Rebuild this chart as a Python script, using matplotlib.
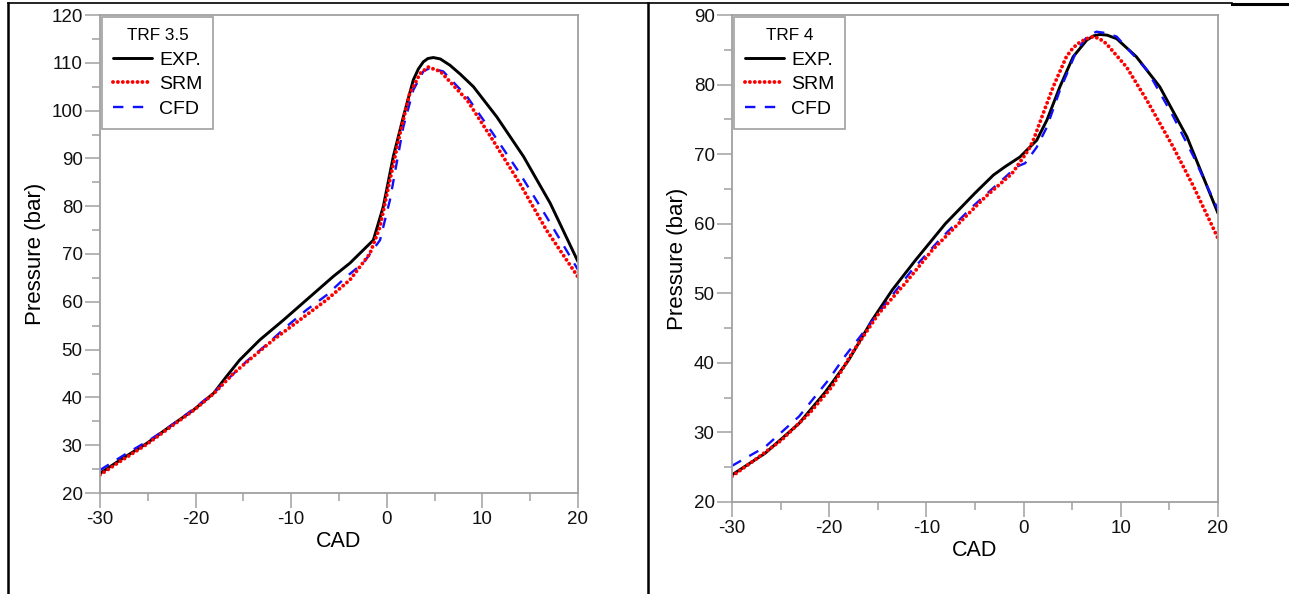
import matplotlib
matplotlib.use("Agg")
import matplotlib.pyplot as plt
from matplotlib.lines import Line2D
from matplotlib.ticker import MultipleLocator

plt.rcParams["font.family"] = ["Liberation Sans", "DejaVu Sans"]
plt.rcParams["axes.unicode_minus"] = False

# ---- TRF 3.5 (left panel) ----
exp35_x = [-30, -27.9, -25.1, -22.7, -20.2, -18.1, -16.8, -15.4, -13.3, -10.8, -8.0, -5.6, -3.85,
           -1.41, -0.37, 0.68, 1.73, 2.77, 3.3, 3.82, 4.3, 4.87, 5.6, 6.6, 7.7, 9.06, 11.5, 14.3,
           17.1, 20]
exp35_y = [24.1, 26.9, 30.4, 33.9, 37.4, 40.9, 44.3, 47.8, 52.0, 56.2, 61.1, 65.3, 68.1,
           72.9, 79.9, 90.4, 98.7, 106.4, 108.7, 110.2, 110.9, 111.1, 110.8, 109.5, 107.6, 105.0,
           98.7, 90.4, 80.6, 68.4]
srm35_x = [-30, -27.9, -25.1, -22.7, -20.2, -18.1, -16.05, -14.0, -11.9, -9.1, -6.3, -3.85,
           -1.76, -0.71, 0.33, 1.38, 2.4, 3.5, 4.34, 5.6, 8.4, 11.1, 13.9, 16.7, 20]
srm35_y = [23.8, 26.6, 30.2, 33.7, 37.3, 40.8, 45.0, 48.5, 52.0, 56.2, 60.4, 64.6,
           70.1, 75.7, 85.5, 95.2, 103.6, 107.8, 109.1, 108.2, 102.2, 93.8, 84.8, 75.0, 65.2]
cfd35_x = [-30, -27.2, -24.8, -22.7, -20.2, -18.1, -14.7, -12.6, -10.5, -8.4, -6.3, -4.2,
           -2.46, -0.71, 0.33, 1.03, 1.73, 2.77, 3.82, 4.5, 5.9, 8.4, 11.1, 13.9, 16.7, 20]
cfd35_y = [24.8, 28.3, 31.1, 33.9, 37.6, 41.0, 47.5, 51.0, 54.8, 58.3, 61.4, 65.3,
           68.1, 72.9, 81.3, 89.0, 96.6, 104.3, 108.2, 108.9, 108.2, 102.9, 95.2, 86.9, 77.8, 66.7]

# ---- TRF 4 (right panel) ----
exp4_x = [-30, -26.6, -23.1, -20.4, -18.0, -15.6, -13.5, -11.1, -8.05, -5.0, -3.1, -1.9, -0.37,
          1.35, 2.4, 3.74, 5.1, 6.5, 7.2, 7.86, 8.6, 9.57, 11.6, 14.0, 16.8, 20]
exp4_y = [23.9, 27.0, 31.3, 35.8, 40.4, 46.1, 50.5, 54.8, 60.0, 64.4, 67.0, 68.2, 69.6,
          72.0, 74.9, 79.7, 84.0, 86.4, 87.0, 87.2, 87.1, 86.6, 84.0, 79.7, 72.5, 61.5]
srm4_x = [-30, -27.5, -24.9, -22.0, -19.7, -17.65, -14.9, -12.2, -9.4, -6.7, -3.9, -1.2, 0.5,
          1.0, 2.0, 3.05, 4.4, 5.1, 5.8, 6.5, 7.17, 7.8, 8.5, 10.6, 12.7, 15.4, 17.5, 20]
srm4_y = [23.7, 26.2, 28.9, 32.8, 36.6, 41.4, 47.1, 51.4, 56.2, 60.0, 63.9, 67.2, 70.6,
          72.0, 75.8, 79.7, 84.0, 85.3, 86.1, 86.6, 86.9, 86.6, 85.9, 82.5, 77.7, 71.0, 65.3, 57.9]
cfd4_x = [-30, -26.6, -23.1, -20.1, -18.3, -14.2, -11.5, -8.7, -5.3, -2.6, -0.7, 0.16, 1.35,
          2.4, 3.74, 5.5, 6.6, 7.5, 8.5, 9.57, 12.7, 15.4, 17.5, 20]
cfd4_y = [25.2, 27.9, 32.3, 37.5, 41.1, 48.5, 53.3, 57.6, 62.4, 65.8, 68.2, 68.7, 71.0,
          73.9, 79.2, 85.0, 87.0, 87.6, 87.4, 86.9, 82.1, 75.4, 69.6, 62.0]

panels = [
    ("TRF 3.5", (exp35_x, exp35_y), (srm35_x, srm35_y), (cfd35_x, cfd35_y), (20, 120)),
    ("TRF 4", (exp4_x, exp4_y), (srm4_x, srm4_y), (cfd4_x, cfd4_y), (20, 90)),
]

W, H = 1289, 594
fig = plt.figure(figsize=(W / 100, H / 100), dpi=100)

# axes boxes in pixels: left, top, right, bottom
boxes = [(100, 15, 578, 493), (732, 15, 1218, 502)]
GRAY = "#a0a0a0"

for (title, exp, srm, cfd, ylim), (l, t, r, b) in zip(panels, boxes):
    ax = fig.add_axes([l / W, 1 - b / H, (r - l) / W, (b - t) / H])
    h_exp, = ax.plot(*exp, color="black", lw=2.1, solid_capstyle="round",
                     solid_joinstyle="round")
    h_cfd, = ax.plot(*cfd, color="#1010ff", lw=1.7, linestyle=(0, (4.4, 4.0)))
    h_srm, = ax.plot(*srm, color="#ff0000", lw=2.8, linestyle=(0, (0.01, 1.25)),
                     dash_capstyle="round")
    ax.set_xlim(-30, 20)
    ax.set_ylim(*ylim)
    ax.xaxis.set_major_locator(MultipleLocator(10))
    ax.xaxis.set_minor_locator(MultipleLocator(5))
    ax.yaxis.set_major_locator(MultipleLocator(10))
    ax.yaxis.set_minor_locator(MultipleLocator(5))
    ax.tick_params(which="major", direction="out", length=10.5, width=1.1, color=GRAY,
                   labelsize=13.5, labelcolor="#111111")
    ax.tick_params(which="minor", direction="out", length=6, width=1.1, color=GRAY)
    ax.tick_params(axis="x", which="major", pad=2.5)
    ax.tick_params(axis="y", which="major", pad=2)
    for s in ax.spines.values():
        s.set_color(GRAY)
        s.set_linewidth(1.3)
    ax.set_xlabel("CAD", fontsize=15.5, labelpad=2)
    ax.set_ylabel("Pressure (bar)", fontsize=16, labelpad=4)
    leg = ax.legend([h_exp, h_srm, h_cfd], ["EXP.", "SRM", "CFD"], title=title,
                    loc="upper left", bbox_to_anchor=(0, 1), borderaxespad=0.1,
                    fontsize=14, title_fontsize=12.3, fancybox=False, framealpha=1,
                    edgecolor=GRAY, handlelength=2.0, handletextpad=0.4,
                    labelspacing=0.36, borderpad=0.55)
    leg.get_frame().set_linewidth(1.2)
    leg._legend_box.sep = 6

# table borders around the two figures
fig.add_artist(Line2D([8 / W, 8 / W], [0, 1 - 3 / H], color="black", lw=1.8, transform=fig.transFigure))
fig.add_artist(Line2D([648 / W, 648 / W], [0, 1 - 3 / H], color="black", lw=1.8, transform=fig.transFigure))
fig.add_artist(Line2D([8 / W, 1232 / W], [1 - 3 / H, 1 - 3 / H], color="black", lw=1.2, transform=fig.transFigure))
fig.add_artist(Line2D([1232 / W, 1], [1 - 4 / H, 1 - 4 / H], color="black", lw=2.2, transform=fig.transFigure))

fig.savefig("out.png", dpi=100)
plt.close(fig)
